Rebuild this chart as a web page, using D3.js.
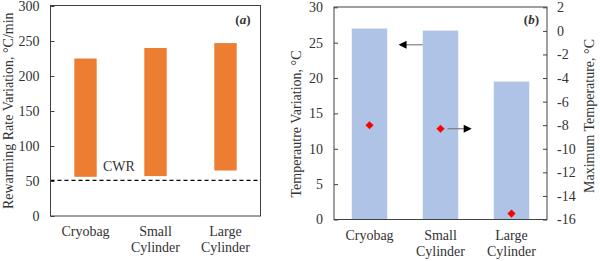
<!DOCTYPE html>
<html>
<head>
<meta charset="utf-8">
<script src="https://cdn.jsdelivr.net/npm/d3@7"></script>
<style>
  html, body { margin: 0; padding: 0; background: #fff; }
  #chart { width: 600px; height: 261px; }
</style>
</head>
<body>
<div id="chart"></div>
<script>
// categories shared by both panels
const categories = ["Cryobag", "Small Cylinder", "Large Cylinder"];
const categoryLines = [["Cryobag"], ["Small", "Cylinder"], ["Large", "Cylinder"]];

// panel (a): rewarming rate range per container
const rateLow = [56, 57, 65];
const rateHigh = [225, 240, 247];
const cwrValue = 51;
const rateTicks = [0, 50, 100, 150, 200, 250, 300];

// panel (b): temperature variation (bars, left) and max temperature (diamonds, right)
const tempVariation = [27.0, 26.7, 19.5];
const maxTemp = [-8.0, -8.3, -15.5];
const leftTicksB = [0, 5, 10, 15, 20, 25, 30];
const rightTicksB = [2, 0, -2, -4, -6, -8, -10, -12, -14, -16];

const FONT = 'Liberation Serif';
const svg = d3.select('#chart').append('svg').attr('width', 600).attr('height', 261);
const axisCol = '#404040';
const textCol = '#333333';

// arrow head marker
svg.append('defs').append('marker')
  .attr('id', 'head').attr('viewBox', '0 0 10 10')
  .attr('refX', 1).attr('refY', 5)
  .attr('markerWidth', 12).attr('markerHeight', 8)
  .attr('markerUnits', 'userSpaceOnUse')
  .attr('orient', 'auto')
  .append('path').attr('d', 'M0,0 L10,5 L0,10 Z').attr('fill', '#000');

function frame(g, x0, x1, y0, y1) {
  g.append('rect').attr('x', x0).attr('y', y0)
    .attr('width', x1 - x0).attr('height', y1 - y0)
    .attr('fill', 'none').attr('stroke', axisCol).attr('stroke-width', 1);
}

function categoryLabels(g, x, yBase) {
  categories.forEach((c, i) => {
    const t = g.append('text').attr('text-anchor', 'middle').attr('font-size', 14);
    categoryLines[i].forEach((line, j) => {
      t.append('tspan').attr('x', x(c) + x.bandwidth() / 2)
        .attr('y', yBase + j * 16).text(line);
    });
  });
}

function styleAxis(ax) {
  ax.select('.domain').remove();
  ax.selectAll('line').attr('stroke', axisCol);
  ax.selectAll('text').attr('font-size', 14);
}

// ---------- panel (a) ----------
{
  const L = 50.5, R = 260.5, T = 5.5, B = 216;
  const g = svg.append('g');
  const x = d3.scaleBand().domain(categories).range([L, R])
    .paddingInner(0.68).paddingOuter(0.34);
  const y = d3.scaleLinear().domain([0, 300]).range([B, T + 0.5]);

  g.selectAll('rect.bar').data(categories).enter().append('rect')
    .attr('class', 'bar')
    .attr('x', d => x(d))
    .attr('width', x.bandwidth())
    .attr('y', (d, i) => y(rateHigh[i]))
    .attr('height', (d, i) => y(rateLow[i]) - y(rateHigh[i]))
    .attr('fill', '#ED7D31');

  // critical warming rate
  g.append('line').attr('x1', L).attr('x2', R)
    .attr('y1', y(cwrValue)).attr('y2', y(cwrValue))
    .attr('stroke', '#000').attr('stroke-width', 1.2)
    .attr('stroke-dasharray', '4,3');
  g.append('text').attr('x', 103).attr('y', y(cwrValue) - 9)
    .attr('font-size', 14).text('CWR');

  const ax = g.append('g').attr('transform', `translate(${L},0)`)
    .call(d3.axisLeft(y).tickValues(rateTicks).tickSizeInner(-4).tickSizeOuter(0).tickPadding(11));
  styleAxis(ax);

  frame(g, L, R, T, B);
  categoryLabels(g, x, 236);

  g.append('text').attr('transform', `translate(13,${(T + B) / 2}) rotate(-90)`)
    .attr('text-anchor', 'middle').attr('font-size', 14)
    .text('Rewarming Rate Variation, \u00B0C/min');

  const lab = g.append('text').attr('x', R - 10).attr('y', 24)
    .attr('text-anchor', 'end').attr('font-size', 13).attr('font-weight', 'bold');
  lab.append('tspan').text('(');
  lab.append('tspan').attr('font-style', 'italic').text('a');
  lab.append('tspan').text(')');
}

// ---------- panel (b) ----------
{
  const L = 334, R = 547, T = 7, B = 219.5;
  const g = svg.append('g');
  const x = d3.scaleBand().domain(categories).range([L, R])
    .paddingInner(0.5).paddingOuter(0.25);
  const y = d3.scaleLinear().domain([0, 30]).range([B, T + 0.3]);
  const y2 = d3.scaleLinear().domain([-16, 2]).range([B, T + 0.3]);

  g.selectAll('rect.bar').data(categories).enter().append('rect')
    .attr('class', 'bar')
    .attr('x', d => x(d))
    .attr('width', x.bandwidth())
    .attr('y', (d, i) => y(tempVariation[i]))
    .attr('height', (d, i) => y(0) - y(tempVariation[i]))
    .attr('fill', '#AFC3E6');

  g.selectAll('path.pt').data(categories).enter().append('path')
    .attr('class', 'pt')
    .attr('d', d3.symbol().type(d3.symbolDiamond2).size(42))
    .attr('transform', (d, i) => `translate(${x(d) + x.bandwidth() / 2},${y2(maxTemp[i])})`)
    .attr('fill', '#FF0000');

  // arrows pointing to the axis each series uses
  const cS = x('Small Cylinder') + x.bandwidth() / 2;
  g.append('line')
    .attr('x1', x('Small Cylinder')).attr('y1', y(24.7))
    .attr('x2', x('Small Cylinder') - 17).attr('y2', y(24.7))
    .attr('stroke', '#7F7F7F').attr('stroke-width', 1.2)
    .attr('marker-end', 'url(#head)');
  g.append('line')
    .attr('x1', cS + 7).attr('y1', y2(-8.3))
    .attr('x2', cS + 24).attr('y2', y2(-8.3))
    .attr('stroke', '#7F7F7F').attr('stroke-width', 1.2)
    .attr('marker-end', 'url(#head)');

  const axL = g.append('g').attr('transform', `translate(${L},0)`)
    .call(d3.axisLeft(y).tickValues(leftTicksB).tickSizeInner(-4).tickSizeOuter(0).tickPadding(11));
  styleAxis(axL);

  const axR = g.append('g').attr('transform', `translate(${R},0)`)
    .call(d3.axisRight(y2).tickValues(rightTicksB).tickSizeInner(-4).tickSizeOuter(0).tickPadding(10)
      .tickFormat(d => d < 0 ? '-' + Math.abs(d) : d));
  styleAxis(axR);

  frame(g, L, R, T, B);
  categoryLabels(g, x, 240);

  g.append('text').attr('transform', `translate(301,124) rotate(-90)`)
    .attr('text-anchor', 'middle').attr('font-size', 14)
    .text('Temperautre Variation, \u00B0C');
  g.append('text').attr('transform', `translate(594,116) rotate(-90)`)
    .attr('text-anchor', 'middle').attr('font-size', 14)
    .text('Maximum Temperature, \u00B0C');

  const lab = g.append('text').attr('x', R - 8).attr('y', 24)
    .attr('text-anchor', 'end').attr('font-size', 13).attr('font-weight', 'bold');
  lab.append('tspan').text('(');
  lab.append('tspan').attr('font-style', 'italic').text('b');
  lab.append('tspan').text(')');
}

// serif everywhere, overriding the axis default
svg.selectAll('g').attr('font-family', FONT);
svg.selectAll('text').attr('font-family', FONT).style('font-family', FONT).style('fill', textCol);
</script>
</body>
</html>
